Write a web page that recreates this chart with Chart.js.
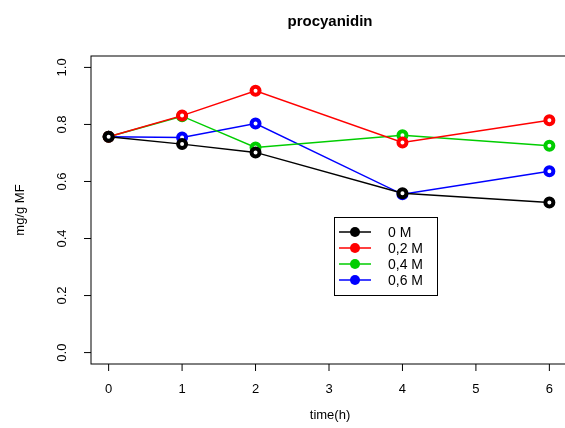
<!DOCTYPE html>
<html>
<head>
<meta charset="utf-8">
<script src="https://cdn.jsdelivr.net/npm/chart.js@4"></script>
<style>
  html, body { margin: 0; padding: 0; background: #fff; overflow: hidden; }
</style>
</head>
<body>
<canvas id="chart" width="575" height="428"></canvas>
<script>
const hours = [0, 1, 2, 4, 6];
const xTicks = [0, 1, 2, 3, 4, 5, 6];
const yTicks = [0.0, 0.2, 0.4, 0.6, 0.8, 1.0];
const seriesNames = ['0 M', '0,2 M', '0,4 M', '0,6 M'];
const seriesColors = ['#000000', '#ff0000', '#00cd00', '#0000ff'];
const m0 = [0.757, 0.731, 0.702, 0.559, 0.526];
const m02 = [0.757, 0.831, 0.918, 0.737, 0.815];
const m04 = [0.757, 0.829, 0.719, 0.762, 0.725];
const m06 = [0.757, 0.754, 0.803, 0.555, 0.636];
const allSeries = [m0, m02, m04, m06];

const FONT = '"Liberation Sans", Arial, sans-serif';

// axes, box, titles and legend drawn R-style
const rAxes = {
    id: 'rAxes',
    afterDraw(chart) {
        const { ctx, chartArea: a, scales } = chart;
        const xs = scales.x, ys = scales.y;
        ctx.save();
        ctx.strokeStyle = '#000';
        ctx.lineWidth = 1;
        ctx.strokeRect(a.left, a.top, a.right - a.left, a.bottom - a.top);

        ctx.fillStyle = '#000';
        ctx.font = '13px ' + FONT;
        ctx.textAlign = 'center';
        ctx.textBaseline = 'middle';
        xTicks.forEach(t => {
            const px = xs.getPixelForValue(t);
            ctx.beginPath();
            ctx.moveTo(px, a.bottom);
            ctx.lineTo(px, a.bottom + 7);
            ctx.stroke();
            ctx.fillText(String(t), px, 389);
        });
        yTicks.forEach(t => {
            const py = ys.getPixelForValue(t);
            ctx.beginPath();
            ctx.moveTo(a.left, py);
            ctx.lineTo(a.left - 7, py);
            ctx.stroke();
            ctx.save();
            ctx.translate(62, py);
            ctx.rotate(-Math.PI / 2);
            ctx.fillText(t.toFixed(1), 0, 0);
            ctx.restore();
        });

        ctx.font = 'bold 15px ' + FONT;
        ctx.fillText('procyanidin', 330, 22);
        ctx.font = '13px ' + FONT;
        ctx.fillText('time(h)', 330, 415);
        ctx.save();
        ctx.translate(20, 210);
        ctx.rotate(-Math.PI / 2);
        ctx.fillText('mg/g MF', 0, 0);
        ctx.restore();

        // legend
        const lx = 334, ly = 217, lw = 103, lh = 78;
        ctx.strokeRect(lx + 0.5, ly + 0.5, lw, lh);
        ctx.font = '14px ' + FONT;
        ctx.textAlign = 'left';
        seriesNames.forEach((name, i) => {
            const y = ly + 15 + i * 16;
            ctx.strokeStyle = seriesColors[i];
            ctx.lineWidth = 1.5;
            ctx.beginPath();
            ctx.moveTo(lx + 5, y);
            ctx.lineTo(lx + 37, y);
            ctx.stroke();
            ctx.beginPath();
            ctx.arc(lx + 21, y, 5, 0, Math.PI * 2);
            ctx.fillStyle = seriesColors[i];
            ctx.fill();
            ctx.fillStyle = '#000';
            ctx.fillText(name, lx + 54, y + 1);
        });
        ctx.restore();
    }
};

new Chart(document.getElementById('chart'), {
    type: 'line',
    data: {
        datasets: allSeries.map((vals, i) => ({
            label: seriesNames[i],
            data: hours.map((h, j) => ({ x: h, y: vals[j] })),
            borderColor: seriesColors[i],
            backgroundColor: '#ffffff',
            pointBorderColor: seriesColors[i],
            pointBackgroundColor: '#ffffff',
            pointRadius: 4,
            pointBorderWidth: 4,
            borderWidth: 1.5,
            tension: 0,
        }))
    },
    options: {
        responsive: false,
        animation: false,
        layout: { padding: { left: 91, right: 7, top: 56, bottom: 64 } },
        plugins: {
            legend: { display: false },
            tooltip: { enabled: false },
        },
        scales: {
            x: { type: 'linear', display: false, min: -0.24, max: 6.24 },
            y: { type: 'linear', display: false, min: -0.04, max: 1.04 }
        }
    },
    plugins: [rAxes]
});
</script>
</body>
</html>
